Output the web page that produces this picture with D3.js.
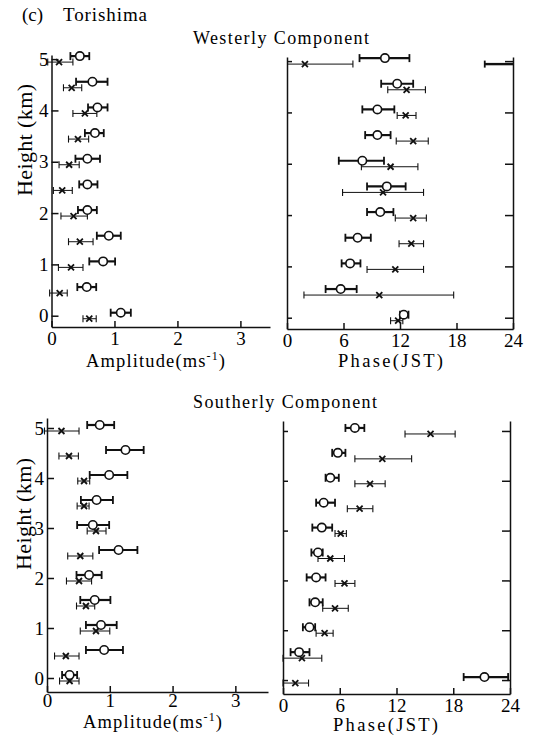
<!DOCTYPE html>
<html>
<head>
<meta charset="utf-8">
<script src="https://cdn.jsdelivr.net/npm/d3@7"></script>
<style>
body { margin: 0; background: #fff; }
svg { display: block; }
text { font-family: "Liberation Serif", "DejaVu Serif", serif; fill: #000; }
</style>
</head>
<body>
<div id="chart"></div>
<script>
// heights (km) of each level, bottom to top
var heights = [0, 0.5, 1, 1.5, 2, 2.5, 3, 3.5, 4, 4.5, 5];
var heightTicks = [0, 1, 2, 3, 4, 5];
var ampTicks = [0, 1, 2, 3];
var phaseTicks = [0, 6, 12, 18, 24];

// westerly component, amplitude (o = open circle, x = cross)
var westAmpO   = [1.10, 0.56, 0.82, 0.91, 0.57, 0.57, 0.57, 0.69, 0.73, 0.65, 0.45];
var westAmpOLo = [0.94, 0.41, 0.60, 0.72, 0.42, 0.44, 0.38, 0.53, 0.58, 0.39, 0.30];
var westAmpOHi = [1.26, 0.71, 1.01, 1.10, 0.72, 0.73, 0.77, 0.83, 0.89, 0.89, 0.60];
var westAmpX   = [0.60, 0.13, 0.31, 0.45, 0.35, 0.17, 0.28, 0.42, 0.53, 0.32, 0.12];
var westAmpXLo = [0.50, -0.03, 0.11, 0.27, 0.15, 0.03, 0.12, 0.27, 0.34, 0.19, -0.06];
var westAmpXHi = [0.71, 0.25, 0.50, 0.66, 0.57, 0.33, 0.44, 0.59, 0.72, 0.48, 0.34];

// westerly component, phase (JST)
var westPhO   = [12.4, 5.7, 6.7, 7.5, 9.9, 10.6, 8.0, 9.6, 9.6, 11.7, 10.4];
var westPhOLo = [12.0, 4.1, 5.8, 6.2, 8.5, 8.5, 5.5, 8.3, 8.0, 10.0, 7.7];
var westPhOHi = [12.9, 7.4, 7.8, 8.9, 11.3, 12.6, 10.3, 11.0, 11.4, 13.4, 13.0];
var westPhX   = [11.8, 9.8, 11.5, 13.2, 13.4, 10.2, 11.0, 13.4, 12.6, 12.7, 1.9];
var westPhXLo = [11.0, 1.8, 8.5, 11.9, 11.5, 5.9, 7.9, 11.6, 11.7, 10.7, -3.0];
var westPhXHi = [12.3, 17.7, 14.5, 14.5, 14.8, 14.5, 13.9, 15.0, 13.7, 14.7, 7.0];

// southerly component, amplitude
var southAmpO   = [0.36, 0.91, 0.86, 0.76, 0.67, 1.14, 0.73, 0.79, 0.99, 1.25, 0.84];
var southAmpOLo = [0.24, 0.62, 0.62, 0.53, 0.47, 0.83, 0.48, 0.54, 0.68, 0.94, 0.64];
var southAmpOHi = [0.48, 1.21, 1.11, 1.01, 0.87, 1.44, 0.99, 1.05, 1.28, 1.54, 1.07];
var southAmpX   = [0.36, 0.30, 0.78, 0.62, 0.51, 0.53, 0.78, 0.59, 0.59, 0.35, 0.23];
var southAmpXLo = [0.20, 0.12, 0.53, 0.47, 0.31, 0.33, 0.64, 0.48, 0.49, 0.19, -0.04];
var southAmpXHi = [0.51, 0.51, 1.00, 0.76, 0.71, 0.73, 0.94, 0.67, 0.68, 0.50, 0.51];

// southerly component, phase (JST)
var southPhO   = [21.3, 1.7, 2.8, 3.4, 3.5, 3.7, 4.1, 4.3, 5.0, 5.8, 7.6];
var southPhOLo = [19.1, 0.8, 2.1, 2.8, 2.5, 3.0, 3.1, 3.5, 4.5, 5.2, 6.6];
var southPhOHi = [23.8, 2.8, 3.4, 4.2, 4.5, 4.2, 5.2, 5.5, 5.9, 6.6, 8.6];
var southPhX   = [1.3, 2.0, 4.4, 5.5, 6.5, 5.0, 6.1, 8.1, 9.2, 10.5, 15.6];
var southPhXLo = [0.0, 0.0, 3.5, 4.2, 5.5, 3.7, 5.5, 6.8, 7.6, 7.6, 12.9];
var southPhXHi = [2.7, 4.1, 5.3, 6.9, 7.6, 6.5, 6.7, 9.5, 10.8, 13.6, 18.2];

function rows(v, lo, hi) {
  return heights.map(function(h, i) { return {h: h, v: v[i], lo: lo[i], hi: hi[i]}; });
}

var ink = '#111';
var svg = d3.select('#chart').append('svg')
  .attr('width', 537)
  .attr('height', 739);

function errorBars(g, x, y, data, dy, width, cap, wrap) {
  data.forEach(function(d) {
    var yy = y(d.h) + dy;
    var segs = [];
    if (wrap && d.lo < 0) {
      segs.push({a: x(0), b: x(d.hi), capA: false, w: width});
      segs.push({a: x(wrap + d.lo), b: x(wrap), capA: true, capB: false, w: 2.4});
    } else {
      segs.push({a: x(d.lo), b: x(d.hi), capA: true, w: width});
    }
    segs.forEach(function(s) {
      g.append('line')
        .attr('x1', s.a).attr('x2', s.b).attr('y1', yy).attr('y2', yy)
        .attr('stroke', ink).attr('stroke-width', s.w);
      if (s.capA) {
        g.append('line').attr('x1', s.a).attr('x2', s.a)
          .attr('y1', yy - cap).attr('y2', yy + cap)
          .attr('stroke', ink).attr('stroke-width', s.w > 1.5 ? 1.8 : 1.1);
      }
      if (s.capB !== false) {
        g.append('line').attr('x1', s.b).attr('x2', s.b)
          .attr('y1', yy - cap).attr('y2', yy + cap)
          .attr('stroke', ink).attr('stroke-width', s.w > 1.5 ? 1.8 : 1.1);
      }
    });
  });
}

function drawPanel(p) {
  var x = d3.scaleLinear().domain(p.xDomain).range(p.xRange),
      y = d3.scaleLinear().domain(p.yDomain).range(p.yRange);

  var g = svg.append('g');

  g.append('g')
    .attr('transform', 'translate(0,' + p.yRange[0] + ')')
    .call(d3.axisBottom(x).tickValues(p.xTicks).tickSize(-6).tickSizeOuter(0)
      .tickPadding(p.xPad).tickFormat(d3.format('d')));

  g.append('g')
    .attr('transform', 'translate(' + p.xRange[0] + ',0)')
    .call(d3.axisLeft(y).tickValues(heightTicks).tickSize(p.phase ? -5 : -7)
      .tickSizeOuter(0).tickPadding(3)
      .tickFormat(p.phase ? function() { return ''; } : d3.format('d')));

  if (p.phase) {
    g.append('g')
      .attr('transform', 'translate(' + p.xRange[1] + ',0)')
      .call(d3.axisRight(y).tickValues(heightTicks).tickSize(-8).tickSizeOuter(0)
        .tickFormat(function() { return ''; }));
  }

  g.selectAll('.domain, .tick line').attr('stroke', ink).attr('stroke-width', 1.5);
  g.selectAll('.tick text').attr('font-size', 19).attr('fill', '#000');

  var wrap = p.phase ? 24 : null;
  var circ = rows(p.o[0], p.o[1], p.o[2]),
      cross = rows(p.x[0], p.x[1], p.x[2]);

  errorBars(g, x, y, cross, 3, 1, 3.5, wrap);
  errorBars(g, x, y, circ, -3, 2.2, 4, wrap);

  g.selectAll('.cross')
    .data(cross)
    .enter().append('path')
    .attr('d', 'M-3,-3L3,3M-3,3L3,-3')
    .attr('transform', function(d) { return 'translate(' + x(d.v) + ',' + (y(d.h) + 3) + ')'; })
    .attr('stroke', ink).attr('stroke-width', 1.8).attr('fill', 'none');

  g.selectAll('.circ')
    .data(circ)
    .enter().append('circle')
    .attr('cx', function(d) { return x(d.v); })
    .attr('cy', function(d) { return y(d.h) - 3; })
    .attr('r', 4.2)
    .attr('fill', '#fff').attr('stroke', ink).attr('stroke-width', 1.6);

  // axis title
  var t = g.append('text')
    .attr('x', p.label[0]).attr('y', p.label[1])
    .attr('font-size', 18.5)
    .attr('textLength', p.label[2]).attr('lengthAdjust', 'spacing');
  if (p.phase) {
    t.text('Phase(JST)');
  } else {
    t.append('tspan').text('Amplitude(ms');
    t.append('tspan').attr('dy', -7).attr('font-size', 12).text('-1');
    t.append('tspan').attr('dy', 7).text(')');
  }
}

drawPanel({
  xDomain: [0, 3.47], xRange: [51.5, 270], yDomain: [-0.22, 5.08], yRange: [327, 55],
  xTicks: ampTicks, xPad: 5, phase: false,
  o: [westAmpO, westAmpOLo, westAmpOHi], x: [westAmpX, westAmpXLo, westAmpXHi],
  label: [86, 367, 139]
});
drawPanel({
  xDomain: [0, 24], xRange: [287, 513], yDomain: [-0.22, 5.08], yRange: [329, 57],
  xTicks: phaseTicks, xPad: 5, phase: true,
  o: [westPhO, westPhOLo, westPhOHi], x: [westPhX, westPhXLo, westPhXHi],
  label: [338, 367, 105]
});
drawPanel({
  xDomain: [0, 3.52], xRange: [47, 268], yDomain: [-0.28, 5.2], yRange: [692, 418],
  xTicks: ampTicks, xPad: 1, phase: false,
  o: [southAmpO, southAmpOLo, southAmpOHi], x: [southAmpX, southAmpXLo, southAmpXHi],
  label: [83, 728, 139]
});
drawPanel({
  xDomain: [0, 24], xRange: [283, 510], yDomain: [-0.28, 5.2], yRange: [694, 421],
  xTicks: phaseTicks, xPad: 4.5, phase: true,
  o: [southPhO, southPhOLo, southPhOHi], x: [southPhX, southPhXLo, southPhXHi],
  label: [333, 731, 105]
});

// titles
svg.append('text').attr('x', 22).attr('y', 21).attr('font-size', 19).text('(c)');
svg.append('text').attr('x', 63).attr('y', 21).attr('font-size', 19)
  .attr('textLength', 84).attr('lengthAdjust', 'spacing').text('Torishima');
svg.append('text').attr('x', 193).attr('y', 44).attr('font-size', 18)
  .attr('textLength', 176).attr('lengthAdjust', 'spacing').text('Westerly Component');
svg.append('text').attr('x', 193).attr('y', 408).attr('font-size', 18)
  .attr('textLength', 184).attr('lengthAdjust', 'spacing').text('Southerly Component');

[[32, 140], [31, 514]].forEach(function(pos) {
  svg.append('text')
    .attr('transform', 'translate(' + pos[0] + ',' + pos[1] + ') rotate(-90)')
    .attr('text-anchor', 'middle')
    .attr('font-size', 22)
    .attr('textLength', 112).attr('lengthAdjust', 'spacing')
    .text('Height (km)');
});
</script>
</body>
</html>
